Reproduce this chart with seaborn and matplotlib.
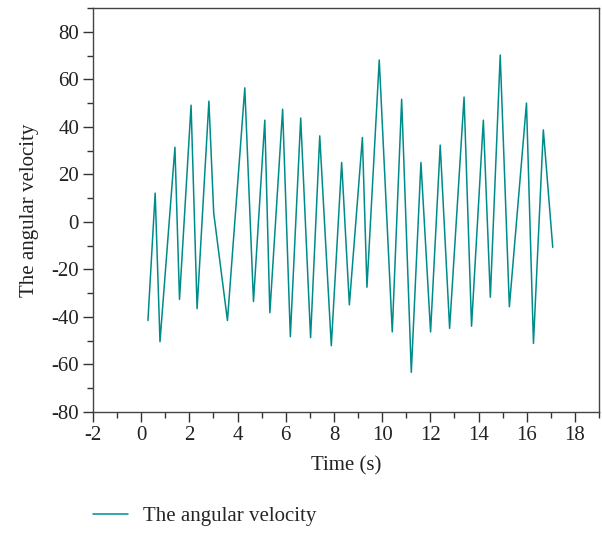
import numpy as np
import pandas as pd
import matplotlib
matplotlib.use("Agg")
import matplotlib.pyplot as plt
import seaborn as sns
from matplotlib.ticker import MultipleLocator

# values
time_s = [0.28, 0.58, 0.78, 1.40, 1.59, 2.07, 2.32, 2.81, 3.01, 3.58,
          4.30, 4.66, 5.13, 5.34, 5.87, 6.19, 6.62, 7.03, 7.41, 7.89,
          8.32, 8.64, 9.18, 9.37, 9.88, 10.42, 10.81, 11.21, 11.61, 12.01,
          12.41, 12.80, 13.40, 13.71, 14.20, 14.49, 14.90, 15.28, 15.99, 16.28,
          16.69, 17.08]
angular_velocity = [-41.5, 12.1, -50.4, 31.4, -32.6, 49.1, -36.5, 50.8, 3.7, -41.5,
                    56.4, -33.5, 42.8, -38.2, 47.4, -48.3, 43.7, -48.7, 36.2, -52.1,
                    25.0, -34.9, 35.5, -27.5, 68.1, -46.3, 51.6, -63.3, 25.0, -46.3,
                    32.3, -44.8, 52.5, -43.9, 42.8, -31.7, 70.2, -35.7, 50.0, -51.1,
                    38.7, -10.7]
x_ticks = list(range(-2, 19, 2))
y_ticks = list(range(-80, 81, 20))

df = pd.DataFrame({"Time (s)": time_s, "The angular velocity": angular_velocity})

sns.set_style("ticks")
plt.rcParams['font.family'] = ['Liberation Serif', 'DejaVu Serif']
plt.rcParams['axes.unicode_minus'] = False
fs = 15

fig = plt.figure(figsize=(6.02, 5.33), dpi=100)
ax = fig.add_axes([93/602, 1 - 412/533, (599 - 93)/602, (412 - 8)/533])

sns.lineplot(data=df, x="Time (s)", y="The angular velocity", ax=ax,
             color="#008b8b", linewidth=1.1, label="The angular velocity",
             legend=False)

ax.set_xlim(-2, 19)
ax.set_ylim(-80, 90)
ax.set_xticks(x_ticks)
ax.set_yticks(y_ticks)
ax.xaxis.set_minor_locator(MultipleLocator(1))
ax.yaxis.set_minor_locator(MultipleLocator(10))
ax.tick_params(which="major", direction="out", length=7, width=1, colors="#333333",
               labelcolor="#222222", labelsize=fs, pad=3)
ax.tick_params(which="minor", direction="out", length=4, width=1, colors="#333333")
for s in ax.spines.values():
    s.set_visible(True)
    s.set_color("#444444")
    s.set_linewidth(1)

ax.set_xlabel("Time (s)", fontsize=fs, color="#222222", labelpad=8)
ax.set_ylabel("The angular velocity", fontsize=fs, color="#222222", labelpad=9)

handles, labels = ax.get_legend_handles_labels()
fig.legend(handles, labels, loc="center left",
           bbox_to_anchor=(93/602, 1 - 516/533), frameon=False,
           borderpad=0, borderaxespad=0, handlelength=1.7, handletextpad=0.72,
           fontsize=fs)

fig.savefig("out.png", dpi=100)
